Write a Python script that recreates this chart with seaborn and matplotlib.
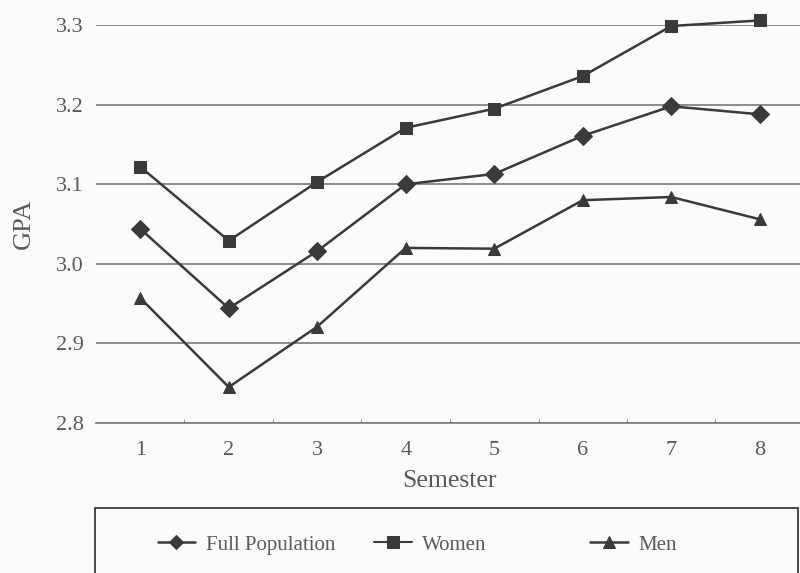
import pandas as pd
import seaborn as sns
import matplotlib.pyplot as plt
from matplotlib.patches import Rectangle

# Datos
semesters = [1, 2, 3, 4, 5, 6, 7, 8]
full_population = [3.044, 2.944, 3.016, 3.100, 3.113, 3.161, 3.198, 3.188]
women = [3.122, 3.029, 3.103, 3.171, 3.195, 3.236, 3.299, 3.306]
men = [2.957, 2.845, 2.921, 3.020, 3.019, 3.080, 3.084, 3.056]
groups = ['Full Population', 'Women', 'Men']

df = pd.DataFrame({
    'Semester': semesters * 3,
    'GPA': full_population + women + men,
    'Group': [g for g in groups for _ in semesters],
})

sns.set_style('white')
plt.rcParams['font.family'] = ['Liberation Serif', 'DejaVu Serif']

ink = '#3a3a3a'
grid = '#7a7a7a'
text = '#5a5a5a'
bg = '#fbfbf9'

fig = plt.figure(figsize=(8, 5.73), dpi=100, facecolor=bg)
ax = fig.add_axes([0.12, 0.262, 0.885, 0.694])
ax.set_facecolor(bg)

sns.lineplot(data=df, x='Semester', y='GPA', hue='Group', style='Group',
             hue_order=groups, style_order=groups,
             palette=[ink, ink, ink], markers={'Full Population': 'D', 'Women': 's', 'Men': '^'},
             dashes=False, markersize=9, linewidth=1.8, markeredgecolor=ink,
             ax=ax, clip_on=False, legend=True)

# Ajustes por serie
for line in ax.lines:
    if line.get_label() == 'Women':
        line.set_linewidth(1.5)
    elif line.get_label() == 'Full Population':
        line.set_markersize(7.5)

ax.set_xlim(0.5, 8.5)
ax.set_ylim(2.8, 3.3)
ax.set_yticks([2.8, 2.9, 3.0, 3.1, 3.2, 3.3])
ax.set_yticklabels(['2.8', '2.9', '3.0', '3.1', '3.2', '3.3'])
ax.set_xticks(semesters)
ax.set_xticks([s + 0.5 for s in semesters[:-1]], minor=True)
ax.yaxis.grid(True, color=grid, linewidth=1.2)
ax.set_axisbelow(True)
for s in ['top', 'right', 'left']:
    ax.spines[s].set_visible(False)
ax.spines['bottom'].set_color(grid)
ax.spines['bottom'].set_linewidth(1.2)
ax.tick_params(axis='y', which='major', length=0, labelsize=16, labelcolor=text, pad=9)
ax.tick_params(axis='x', which='major', length=0, labelsize=16, labelcolor=text, pad=13)
ax.tick_params(axis='x', which='minor', direction='in', length=3, color=grid, bottom=True)
ax.set_xlabel('Semester', fontsize=18.5, color=text, labelpad=7)
ax.set_ylabel('GPA', fontsize=19, color=text, labelpad=15)

handles, labels = ax.get_legend_handles_labels()
ax.get_legend().remove()

# Recuadro de la leyenda
fig.patches.append(Rectangle((0.119, -0.05), 0.879, 0.1634, transform=fig.transFigure,
                             facecolor='none', edgecolor=ink, linewidth=1.3))

# Una leyenda por serie para reproducir el espaciado
legend_x = [0.197, 0.468, 0.738]
for h, lab, lx in zip(handles, labels, legend_x):
    fig.legend([h], [lab], loc='center left', bbox_to_anchor=(lx, 0.049),
               frameon=False, fontsize=15, handlelength=1.8, handletextpad=0.5,
               borderpad=0, borderaxespad=0, labelcolor=text)

plt.savefig('out.png', dpi=100, facecolor=fig.get_facecolor())
